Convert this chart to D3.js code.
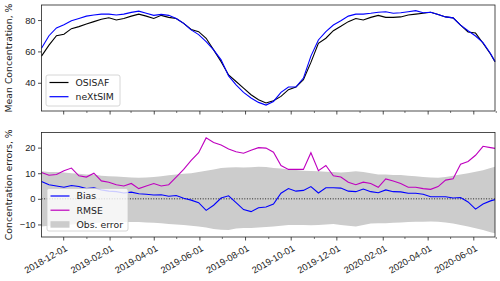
<!DOCTYPE html>
<html>
<head>
<meta charset="utf-8">
<style>
    body { margin: 0; background: white; }
    svg { display: block; font-family: 'DejaVu Sans', sans-serif; }
    .tick text { font-size: 9.3px; fill: #222; }
</style>
</head>
<body>
<svg width="500" height="281"></svg>

<script src="https://d3js.org/d3.v7.min.js"></script>
<script>
// sampled every 10 days
const dates = ["2018-11-02","2018-11-12","2018-11-22","2018-12-02","2018-12-12","2018-12-22",
    "2019-01-01","2019-01-11","2019-01-21","2019-01-31","2019-02-10","2019-02-20","2019-03-02",
    "2019-03-12","2019-03-22","2019-04-01","2019-04-11","2019-04-21","2019-05-01","2019-05-11",
    "2019-05-21","2019-05-31","2019-06-10","2019-06-20","2019-06-30","2019-07-10","2019-07-20",
    "2019-07-30","2019-08-09","2019-08-19","2019-08-29","2019-09-08","2019-09-18","2019-09-28",
    "2019-10-08","2019-10-18","2019-10-28","2019-11-07","2019-11-17","2019-11-27","2019-12-07",
    "2019-12-17","2019-12-27","2020-01-06","2020-01-16","2020-01-26","2020-02-05","2020-02-15",
    "2020-02-25","2020-03-06","2020-03-16","2020-03-26","2020-04-05","2020-04-15","2020-04-25",
    "2020-05-05","2020-05-15","2020-05-25","2020-06-04","2020-06-14","2020-06-24","2020-06-30"]

const osisaf = [57, 64, 70, 71, 74.5, 75.8, 77.5, 79, 80.5, 81.5, 80, 81, 82.5, 83.8, 82.5, 81,
    83, 81.7, 81, 77.9, 74, 72.6, 68.4, 61, 53.5, 45, 40.8, 36.6, 32.4, 29.2, 27.1, 28.6, 31.3,
    35.6, 37.3, 41.9, 53, 65.2, 68.4, 73.2, 76, 79, 81, 80, 81.7, 83, 81.7, 81.7, 82, 83.2, 83.8,
    84.3, 85, 83.6, 82, 81.4, 76.8, 72.4, 71.7, 65.2, 58.4, 53.5]

const nextsim = [62, 70, 75, 77, 79.6, 81, 82.5, 83.2, 83.8, 83.8, 83.2, 83.8, 84.9, 85.7, 84.3,
    83, 83.6, 83, 81, 77.9, 73.7, 70.7, 66.2, 61, 54.6, 44.4, 38.7, 33.9, 30.3, 27.5, 25.8, 28.1,
    33.9, 37.3, 37.3, 43, 57, 67.3, 72.6, 76.8, 79.5, 82.5, 83.8, 83.8, 84.3, 85, 85.3, 84.3, 84.7,
    85.3, 86, 84.7, 85, 83.6, 82, 81.4, 76.8, 73.2, 69.8, 65.6, 58.7, 53.5]

const bias = [6.8, 5.5, 5.0, 4.5, 5.2, 4.8, 4.0, 4.3, 3.5, 3.0, 2.8, 2.3, 2.6, 2.0, 1.8, 1.5, 1.6,
    1.0, 1.3, 0.2, -0.5, -1.5, -4.5, -2.5, 0.3, 1.2, -1.5, -4.2, -5, -3.5, -3.2, -2, 2.2, 4.0, 3.0,
    3.3, 4.8, 2.3, 4.3, 4.3, 4.2, 3.0, 2.8, 3.8, 2.8, 2.4, 3.5, 2.8, 2.7, 2.2, 2.2, 1.8, 0.8, 0.8,
    0.8, 0.3, 0.5, -1.2, -4.0, -2, -0.8, -0.3]

const rmse = [10.3, 9.2, 9.5, 11, 12, 9, 8.5, 10, 7, 6.5, 5.5, 5, 6, 4, 5, 6, 5, 5.5, 8.5, 11.5,
    15, 18, 23.8, 22, 21, 19.5, 18.4, 17.8, 19, 20, 19.8, 18.2, 13, 11.5, 11.5, 11.5, 18, 11, 13,
    9, 8.5, 6.5, 5.5, 6.5, 6, 4.5, 7.8, 7, 6, 4.5, 4.5, 4, 3.7, 4.8, 7.3, 7.8, 13.5, 14.6, 17,
    20.5, 20, 19.7]

const obsUpper = [10.8, 10.5, 10.5, 10.3, 10, 9.8, 9.5, 9.5, 9, 8.8, 8.7, 8.5, 8.3, 8.2, 8.3, 8.5,
    8.8, 9.2, 9.5, 9.8, 10, 10.5, 11, 11.5, 12, 12.2, 12.3, 12.2, 12.3, 12.5, 12.4, 12, 11.8, 11.5,
    11.3, 11, 10.9, 10.8, 10.6, 10.5, 10.3, 10.5, 10.8, 10.5, 10, 9.5, 9.5, 9.3, 9.3, 9.0, 8.8, 8.5,
    8.3, 8.2, 8.5, 9.0, 9.5, 10, 10.6, 11.2, 12, 12.5]

const obsLower = [-10.8, -10.5, -10.5, -10.3, -10, -9.8, -9.5, -9.5, -9.2, -9, -9, -9, -9, -9,
    -9.2, -9.3, -9.5, -9.8, -10, -10.2, -10.5, -10.8, -11.2, -11.8, -12.1, -12.2, -11.6, -11.4,
    -11.4, -11.2, -11, -10.8, -10.5, -10.2, -10.2, -10.2, -10.3, -10.2, -10, -9.8, -10.2, -10.5,
    -10.8, -10.2, -9.6, -9.5, -9.5, -9.3, -9.2, -9.0, -8.9, -8.9, -8.8, -8.9, -9.2, -9.6, -10.2,
    -10.8, -11.5, -12.2, -13, -13.4]

const topTicks = [40, 60, 80]
const bottomTicks = [-10, 0, 10, 20]
const tickDates = ["2018-12-01","2019-02-01","2019-04-01","2019-06-01","2019-08-01","2019-10-01",
    "2019-12-01","2020-02-01","2020-04-01","2020-06-01"]

const parse = d3.timeParse("%Y-%m-%d")
const data = dates.map((d, i) => ({
    date: parse(d),
    osisaf: osisaf[i], nextsim: nextsim[i],
    bias: bias[i], rmse: rmse[i],
    lo: obsLower[i], hi: obsUpper[i]
}))

const svg = d3.select("svg")

let left = 41.5, right = 495
let top1 = 5, bot1 = 111
let top2 = 132.5, bot2 = 237

let x = d3.scaleTime()
    .domain([parse("2018-11-02"), parse("2020-06-30")])
    .range([left, right])

let y1 = d3.scaleLinear().domain([22, 89.6]).range([bot1, top1])
let y2 = d3.scaleLinear().domain([-14.9, 25.9]).range([bot2, top2])

let majors = tickDates.map(parse)
// in-between months
let minors = majors.map(d => d3.timeMonth.offset(d, 1))

function drawAxes(y, yt, top, bot, labels) {
    // minor x ticks
    svg.append("g")
        .attr("transform", `translate(0,${bot})`)
        .call(d3.axisBottom(x).tickValues(minors).tickSize(2).tickFormat(""))
        .call(g => g.select(".domain").remove())
        .selectAll("line").attr("stroke", "#222").attr("stroke-width", 0.6)

    let xa = svg.append("g")
        .attr("transform", `translate(0,${bot})`)
        .call(d3.axisBottom(x).tickValues(majors).tickSize(3.5)
            .tickFormat(labels ? d3.timeFormat("%Y-%m-%d") : ""))
    xa.select(".domain").remove()
    xa.selectAll("line").attr("stroke", "#222").attr("stroke-width", 0.8)
    if (labels) {
        xa.selectAll("text")
            .attr("text-anchor", "end")
            .attr("dy", null)
            .attr("y", 0)
            .attr("transform", d => "translate(1,7.5) rotate(-30)")
            .attr("dominant-baseline", "hanging")
    }

    let ya = svg.append("g")
        .attr("transform", `translate(${left},0)`)
        .call(d3.axisLeft(y).tickValues(yt).tickSize(3.5).tickPadding(2.5)
            .tickFormat(d => d < 0 ? "\u2212" + Math.abs(d) : d))
    ya.select(".domain").remove()
    ya.selectAll("line").attr("stroke", "#222").attr("stroke-width", 0.8)

    svg.append("rect")
        .attr("x", left).attr("y", top)
        .attr("width", right - left).attr("height", bot - top)
        .attr("fill", "none").attr("stroke", "#222").attr("stroke-width", 0.8)
}

function legend(x0, y0, w, h, items) {
    let g = svg.append("g")
    g.append("rect")
        .attr("x", x0).attr("y", y0).attr("width", w).attr("height", h)
        .attr("rx", 2)
        .attr("fill", "white").attr("fill-opacity", 0.8)
        .attr("stroke", "#ccc").attr("stroke-width", 0.8)
    items.forEach((it, i) => {
        let cy = y0 + 7.5 + i * 14.2
        if (it.patch) {
            g.append("rect").attr("x", x0 + 3.5).attr("y", cy - 3.2)
                .attr("width", 19).attr("height", 6.5).attr("fill", it.color)
        } else {
            g.append("line").attr("x1", x0 + 3.5).attr("x2", x0 + 22.5)
                .attr("y1", cy).attr("y2", cy)
                .attr("stroke", it.color).attr("stroke-width", 1.2)
        }
        g.append("text").attr("x", x0 + 29.5).attr("y", cy + 3.4)
            .attr("font-size", 9.3).attr("fill", "#222").text(it.name)
    })
}

// top panel
let line1 = (key) => d3.line().x(d => x(d.date)).y(d => y1(d[key]))

svg.append("path").datum(data)
    .attr("d", line1("osisaf"))
    .attr("fill", "none").attr("stroke", "black").attr("stroke-width", 1.1)
svg.append("path").datum(data)
    .attr("d", line1("nextsim"))
    .attr("fill", "none").attr("stroke", "#0000ff").attr("stroke-width", 1.1)

drawAxes(y1, topTicks, top1, bot1, false)

legend(46, 75, 74, 31, [
    { name: "OSISAF", color: "black" },
    { name: "neXtSIM", color: "#0000ff" }
])

// bottom panel
svg.append("path").datum(data)
    .attr("d", d3.area().x(d => x(d.date)).y0(d => y2(d.lo)).y1(d => y2(d.hi)))
    .attr("fill", "#cccccc")

svg.append("line")
    .attr("x1", left).attr("x2", right)
    .attr("y1", y2(0)).attr("y2", y2(0))
    .attr("stroke", "#222").attr("stroke-width", 1)
    .attr("stroke-dasharray", "1,1.6")

let line2 = (key) => d3.line().x(d => x(d.date)).y(d => y2(d[key]))

svg.append("path").datum(data)
    .attr("d", line2("bias"))
    .attr("fill", "none").attr("stroke", "#0000ff").attr("stroke-width", 1.1)
svg.append("path").datum(data)
    .attr("d", line2("rmse"))
    .attr("fill", "none").attr("stroke", "#bf00bf").attr("stroke-width", 1.1)

drawAxes(y2, bottomTicks, top2, bot2, true)

legend(47, 188.5, 81, 42.5, [
    { name: "Bias", color: "#0000ff" },
    { name: "RMSE", color: "#bf00bf" },
    { name: "Obs. error", color: "#cccccc", patch: true }
])

// y labels
svg.append("text")
    .attr("transform", `translate(12,${(top1 + bot1) / 2}) rotate(-90)`)
    .attr("text-anchor", "middle")
    .attr("font-size", 9.3).attr("fill", "#222")
    .text("Mean Concentration, %")

svg.append("text")
    .attr("transform", `translate(12,${(top2 + bot2) / 2}) rotate(-90)`)
    .attr("text-anchor", "middle")
    .attr("font-size", 9.3).attr("fill", "#222")
    .text("Concentration errors, %")
</script>
</body>
</html>
